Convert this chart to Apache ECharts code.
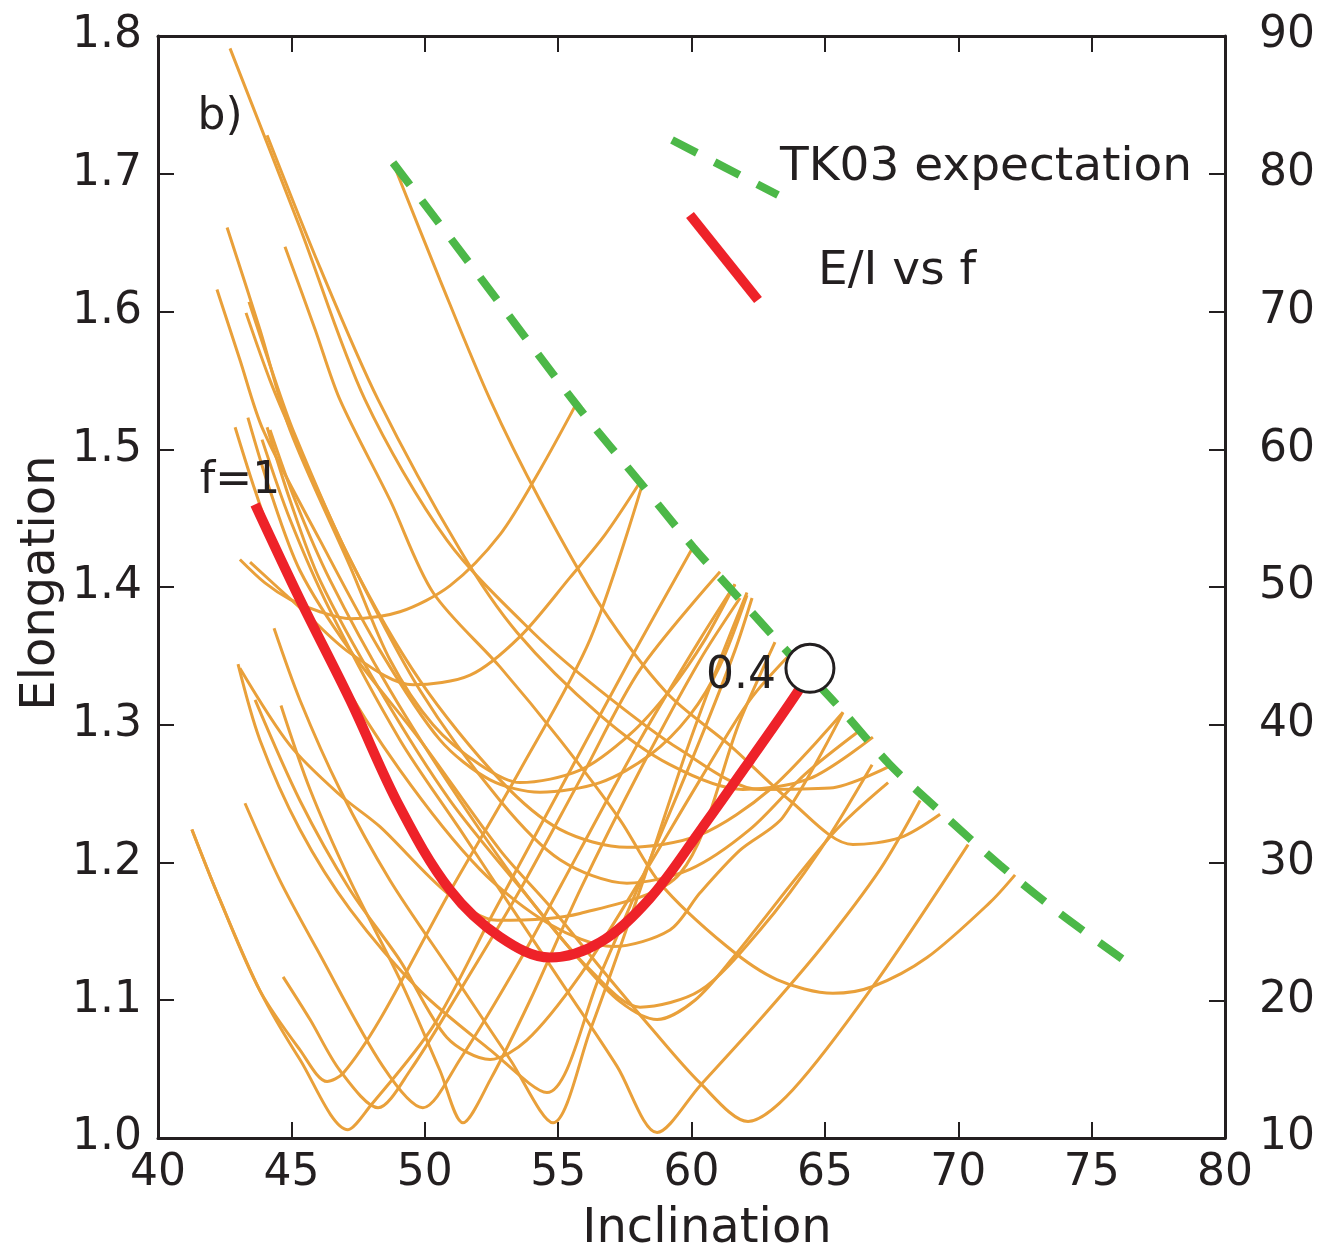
<!DOCTYPE html>
<html lang="en">
<head>
<meta charset="UTF-8">
<title>E/I vs f</title>
<script src="https://cdn.jsdelivr.net/npm/echarts@6/dist/echarts.min.js"></script>
<style>
  html, body { margin: 0; padding: 0; background: #fff; }
  #main { width: 1328px; height: 1257px; }
</style>
</head>
<body>
<div id="main"></div>
<script>
// axis ticks
var xTicks = [40, 45, 50, 55, 60, 65, 70, 75, 80];
var leftTicks = [1.0, 1.1, 1.2, 1.3, 1.4, 1.5, 1.6, 1.7, 1.8];
var rightTicks = [10, 20, 30, 40, 50, 60, 70, 80, 90];

// bootstrap E/I paths [inclination, elongation]
var c01 = [[42.70,1.791],[45.32,1.661],[47.76,1.536],[50.83,1.434],[54.06,1.367],[56.57,1.325],[59.57,1.282],[62.57,1.253],[65.19,1.254],[67.55,1.271]];
var c02 = [[44.09,1.728],[46.07,1.632],[48.25,1.536],[51.32,1.427],[53.46,1.367],[56.57,1.307],[59.19,1.271],[61.93,1.253],[64.44,1.261],[66.80,1.291]];
var c03 = [[48.81,1.708],[50.57,1.623],[52.45,1.536],[54.32,1.463],[56.57,1.387],[59.08,1.323],[61.44,1.285],[63.69,1.245],[66.05,1.213],[67.82,1.218],[69.32,1.235]];
var c04 = [[42.59,1.661],[43.82,1.587],[44.95,1.514],[47.20,1.415],[48.70,1.347],[50.31,1.300],[52.07,1.271],[53.57,1.258],[55.82,1.267],[57.69,1.293],[59.19,1.325],[60.51,1.362],[61.63,1.402]];
var c05 = [[42.21,1.616],[43.07,1.565],[43.94,1.514],[46.07,1.434],[48.32,1.354],[50.57,1.289],[52.45,1.260],[54.32,1.251],[56.57,1.258],[58.44,1.278],[59.94,1.307],[61.07,1.343],[62.08,1.394]];
var c06 = [[43.41,1.607],[44.20,1.561],[45.06,1.514],[47.20,1.420],[49.82,1.332],[52.82,1.260],[55.07,1.224],[57.58,1.211],[60.32,1.220],[62.94,1.253],[65.68,1.309]];
var c07 = [[43.30,1.599],[44.20,1.550],[45.14,1.507],[47.20,1.420],[49.82,1.325],[52.82,1.245],[55.07,1.202],[57.58,1.185],[59.94,1.195],[62.19,1.224],[64.25,1.264],[66.32,1.296]];
var c08 = [[44.76,1.647],[45.89,1.587],[46.82,1.536],[48.70,1.463],[50.31,1.396],[52.82,1.342],[55.07,1.289],[57.32,1.231],[58.82,1.185],[61.33,1.139],[63.20,1.115],[65.30,1.105],[66.80,1.110],[68.83,1.131],[71.19,1.171],[72.13,1.191]];
var c09 = [[42.89,1.516],[43.64,1.470],[44.57,1.420],[46.45,1.347],[49.07,1.267],[52.07,1.195],[54.70,1.155],[57.06,1.139],[59.19,1.151],[60.32,1.178],[61.82,1.209],[63.43,1.233],[65.68,1.309]];
var c10 = [[43.37,1.523],[44.20,1.470],[45.32,1.412],[47.20,1.354],[49.82,1.289],[52.82,1.209],[54.70,1.168],[56.57,1.124],[58.44,1.081],[60.32,1.040],[62.12,1.012],[63.80,1.035],[66.80,1.110],[70.37,1.213]];
var c11 = [[44.09,1.516],[44.95,1.463],[46.07,1.405],[48.32,1.325],[50.95,1.245],[53.95,1.173],[55.82,1.129],[57.32,1.099],[58.71,1.086],[60.13,1.100],[61.56,1.131],[65.30,1.221],[67.37,1.258]];
var c12 = [[43.07,1.420],[44.01,1.403],[44.95,1.391],[46.07,1.382],[47.20,1.377],[49.07,1.382],[50.95,1.401],[52.82,1.438],[54.32,1.485],[55.71,1.534]];
var c13 = [[43.45,1.418],[45.32,1.385],[47.20,1.352],[49.56,1.329],[51.70,1.336],[53.57,1.364],[55.45,1.407],[56.76,1.438],[58.07,1.476]];
var c14 = [[44.35,1.370],[45.32,1.318],[46.82,1.253],[48.70,1.187],[50.95,1.122],[53.20,1.057],[54.81,1.011],[56.20,1.078],[58.07,1.180],[59.83,1.282],[61.07,1.347],[62.08,1.396]];
var c15 = [[43.00,1.344],[43.82,1.289],[45.32,1.224],[47.20,1.166],[49.82,1.107],[52.45,1.064],[54.58,1.033],[56.57,1.118],[58.44,1.202],[60.32,1.289],[61.63,1.354],[62.27,1.392]];
var c16 = [[44.61,1.314],[45.70,1.253],[47.20,1.187],[49.07,1.115],[50.57,1.049],[51.43,1.011],[52.45,1.042],[53.95,1.100],[55.82,1.180],[58.07,1.267],[60.32,1.347],[61.82,1.392]];
var c17 = [[41.27,1.224],[42.32,1.173],[43.82,1.107],[45.32,1.064],[46.34,1.041],[46.94,1.047],[48.32,1.086],[50.83,1.175],[53.57,1.267],[56.20,1.362],[58.18,1.476]];
var c18 = [[41.27,1.224],[42.32,1.173],[43.82,1.107],[45.32,1.057],[47.12,1.006],[47.95,1.023],[50.31,1.081],[52.56,1.163],[55.07,1.253],[57.69,1.347],[60.06,1.429]];
var c19 = [[44.69,1.117],[45.70,1.086],[46.82,1.049],[48.25,1.022],[49.45,1.049],[51.32,1.107],[53.57,1.180],[55.82,1.260],[58.07,1.340],[61.07,1.411]];
var c20 = [[43.26,1.243],[44.57,1.187],[45.96,1.137],[48.43,1.052],[49.93,1.022],[51.32,1.057],[53.57,1.129],[55.82,1.209],[58.07,1.289],[60.32,1.362],[61.63,1.402]];
var c21 = [[44.20,1.514],[45.14,1.463],[46.45,1.405],[48.70,1.325],[51.32,1.245],[53.95,1.173],[56.20,1.122],[58.07,1.095],[60.32,1.107],[62.57,1.151],[64.82,1.209],[66.77,1.271]];
var c22 = [[43.90,1.507],[44.95,1.449],[46.45,1.383],[49.07,1.289],[51.32,1.224],[52.82,1.180],[55.33,1.107],[57.21,1.052],[58.71,1.004],[60.32,1.038],[62.57,1.086],[64.82,1.137],[67.07,1.195],[68.57,1.245]];
var c23 = [[43.07,1.341],[44.95,1.285],[46.82,1.249],[48.32,1.226],[50.83,1.178],[52.71,1.158],[55.82,1.163],[59.57,1.192],[61.82,1.303],[63.13,1.360]];
var c24 = [[43.64,1.318],[45.32,1.245],[47.20,1.180],[49.07,1.129],[50.83,1.073],[52.45,1.057],[53.83,1.071],[55.82,1.118],[58.07,1.187],[60.32,1.260],[62.19,1.318],[63.69,1.351]];
var bootstrapCurves = [c01,c02,c03,c04,c05,c06,c07,c08,c09,c10,c11,c12,c13,c14,c15,c16,c17,c18,c19,c20,c21,c22,c23,c24];

// E/I vs f for the data (f from 1 down to 0.4)
var eiVsF = [[43.64,1.460],[45.32,1.391],[47.20,1.318],[49.07,1.240],[50.95,1.180],[52.82,1.146],[54.70,1.131],[56.57,1.142],[58.44,1.174],[60.32,1.223],[62.19,1.274],[63.95,1.323],[64.30,1.335]];
var endPoint = [[64.44,1.341]];

// TK03 expectation
var tk03 = [[48.81,1.708],[52.07,1.625],[55.82,1.529],[58.07,1.476],[60.06,1.429],[61.82,1.391],[63.69,1.351],[65.57,1.312],[67.44,1.271],[69.32,1.237],[71.57,1.198],[73.81,1.163],[76.44,1.126]];

var FONT = "'Comic Sans MS', 'DejaVu Sans', sans-serif";
var INK = '#231F20';
var ORANGE = '#E9A03A';
var RED = '#EE2229';
var GREEN = '#4CB848';

var myChart = echarts.init(document.getElementById('main'));

var series = [];
bootstrapCurves.forEach(function (c) {
  series.push({
    type: 'line', data: c, showSymbol: false, smooth: 0.3,
    lineStyle: { color: ORANGE, width: 3 }, z: 2, silent: true
  });
});
series.push({
  type: 'line', data: eiVsF, showSymbol: false, smooth: 0.35,
  lineStyle: { color: RED, width: 10, cap: 'butt' }, z: 4
});
series.push({
  type: 'line', data: tk03, showSymbol: false, smooth: 0.3,
  lineStyle: { color: GREEN, width: 8, type: [28, 20], cap: 'butt' }, z: 5
});
series.push({
  type: 'scatter', data: endPoint, symbol: 'circle', symbolSize: 48,
  itemStyle: { color: '#fff', borderColor: INK, borderWidth: 3, opacity: 1 }, z: 6
});

var labelStyle = { color: INK, fontSize: 44, fontFamily: FONT };

function txt(t, x, y, size, align, rot) {
  return {
    type: 'text', x: x, y: y, rotation: rot || 0, z: 10,
    style: { text: t, font: size + 'px ' + FONT, fill: INK, align: align, verticalAlign: 'middle',
             textAlign: align, textVerticalAlign: 'middle' }
  };
}

var option = {
  animation: false,
  backgroundColor: '#fff',
  grid: { left: 158, right: 103, top: 36, bottom: 119, containLabel: false },
  xAxis: [{
    type: 'value', min: xTicks[0], max: xTicks[xTicks.length - 1], interval: 5,
    axisLine: { show: true, lineStyle: { color: INK, width: 3 } },
    axisTick: { show: true, inside: true, length: 16, lineStyle: { color: INK, width: 2 } },
    axisLabel: Object.assign({ margin: 14 }, labelStyle),
    splitLine: { show: false }
  }, {
    type: 'value', position: 'top', min: xTicks[0], max: xTicks[xTicks.length - 1], interval: 5,
    axisLine: { show: true, lineStyle: { color: INK, width: 3 } },
    axisTick: { show: true, inside: true, length: 16, lineStyle: { color: INK, width: 2 } },
    axisLabel: { show: false }, splitLine: { show: false }
  }],
  yAxis: [{
    type: 'value', min: leftTicks[0], max: leftTicks[leftTicks.length - 1], interval: 0.1,
    axisLine: { show: true, lineStyle: { color: INK, width: 3 } },
    axisTick: { show: true, inside: true, length: 16, lineStyle: { color: INK, width: 2 } },
    axisLabel: Object.assign({ margin: 16, formatter: function (v) { return v.toFixed(1); } }, labelStyle),
    splitLine: { show: false }
  }, {
    type: 'value', position: 'right', min: rightTicks[0], max: rightTicks[rightTicks.length - 1], interval: 10,
    axisLine: { show: true, lineStyle: { color: INK, width: 3 } },
    axisTick: { show: true, inside: true, length: 16, lineStyle: { color: INK, width: 2 } },
    axisLabel: Object.assign({ margin: 34 }, labelStyle),
    splitLine: { show: false }
  }],
  series: series,
  graphic: [
    txt('Elongation', 42, 583, 48, 'center', Math.PI / 2),
    txt('Inclination', 707, 1230, 48, 'center'),
    txt('b)', 220, 118, 44, 'center'),
    txt('f=1', 240, 482, 44, 'center'),
    txt('0.4', 776, 677, 44, 'right'),
    { type: 'line', shape: { x1: 672, y1: 140, x2: 778, y2: 195 }, z: 10,
      style: { stroke: GREEN, lineWidth: 8, lineDash: [28, 20] } },
    txt('TK03 expectation', 780, 168, 47, 'left'),
    { type: 'line', shape: { x1: 690, y1: 215, x2: 758, y2: 300 }, z: 10,
      style: { stroke: RED, lineWidth: 10 } },
    txt('E/I vs f', 818, 272, 47, 'left')
  ]
};

myChart.setOption(option);
window.onresize = myChart.resize;
</script>
</body>
</html>
